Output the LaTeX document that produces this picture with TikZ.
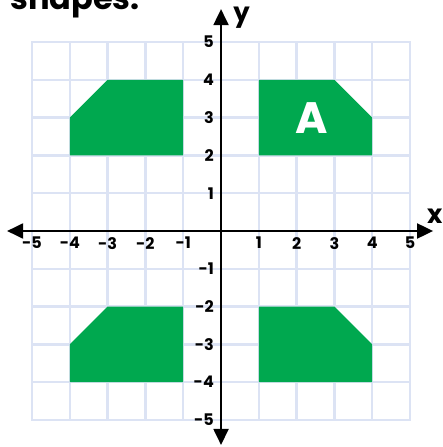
\documentclass[tikz,border=0pt]{standalone}
\usepackage{fontspec}
\setmainfont{Poppins}
\usetikzlibrary{arrows.meta}
\definecolor{gridc}{HTML}{DCE3F4}
\definecolor{shapeg}{HTML}{00A84F}
\begin{document}
\begin{tikzpicture}[x=37.8pt,y=37.8pt,
  gridline/.style={draw=gridc,line width=2.4pt},
  axisline/.style={line width=2pt,{Triangle[length=16pt,width=15pt]}-{Triangle[length=16pt,width=15pt]}},
  tick/.style={font=\bfseries\fontsize{16}{16}\selectfont,inner sep=0pt},
  shapefill/.style={fill=shapeg,draw=none}]
\useasboundingbox (-5.847,-5.714) rectangle (5.847,6.111);
\foreach \k in {-5,...,5} {
  \draw[gridline,line cap=rect] (\k,-5) -- (\k,5);
  \draw[gridline,line cap=rect] (-5,\k) -- (5,\k);
}
\fill[shapefill] (1,2) -- (1,4) -- (3,4) -- (4,3) -- (4,2) -- cycle;
\fill[shapefill] (-1,2) -- (-1,4) -- (-3,4) -- (-4,3) -- (-4,2) -- cycle;
\fill[shapefill] (-1,-2) -- (-1,-4) -- (-4,-4) -- (-4,-3) -- (-3,-2) -- cycle;
\fill[shapefill] (1,-2) -- (3,-2) -- (4,-3) -- (4,-4) -- (1,-4) -- cycle;
\node[font=\bfseries\fontsize{44}{44}\selectfont,text=white,inner sep=0pt] (lblA) at (2.4,3) {A};
\coordinate (xl) at (-5.66,0);
\coordinate (xr) at (5.61,0);
\coordinate (yt) at (0,5.87);
\coordinate (yb) at (0,-5.66);
\draw[axisline] (xl) -- (xr);
\draw[axisline] (yb) -- (yt);
\node[font=\bfseries\fontsize{26}{26}\selectfont,anchor=base west,inner sep=0pt] (xlab) at (5.45,0.21) {x};
\node[font=\bfseries\fontsize{26}{26}\selectfont,anchor=base west,inner sep=0pt] (ylab) at (0.32,5.53) {y};
\foreach \i in {-5,...,-1,1,2,3,4,5} {
  \node[tick] (tx\i) at (\i,-0.32) {\i};
  \node[tick,anchor=east] (ty\i) at (-0.185,\i) {\i};
}
\node[font=\bfseries\fontsize{32}{32}\selectfont,anchor=base west,inner sep=0pt] (title) at (-5.58,5.86) {shapes.};
\end{tikzpicture}
\end{document}
